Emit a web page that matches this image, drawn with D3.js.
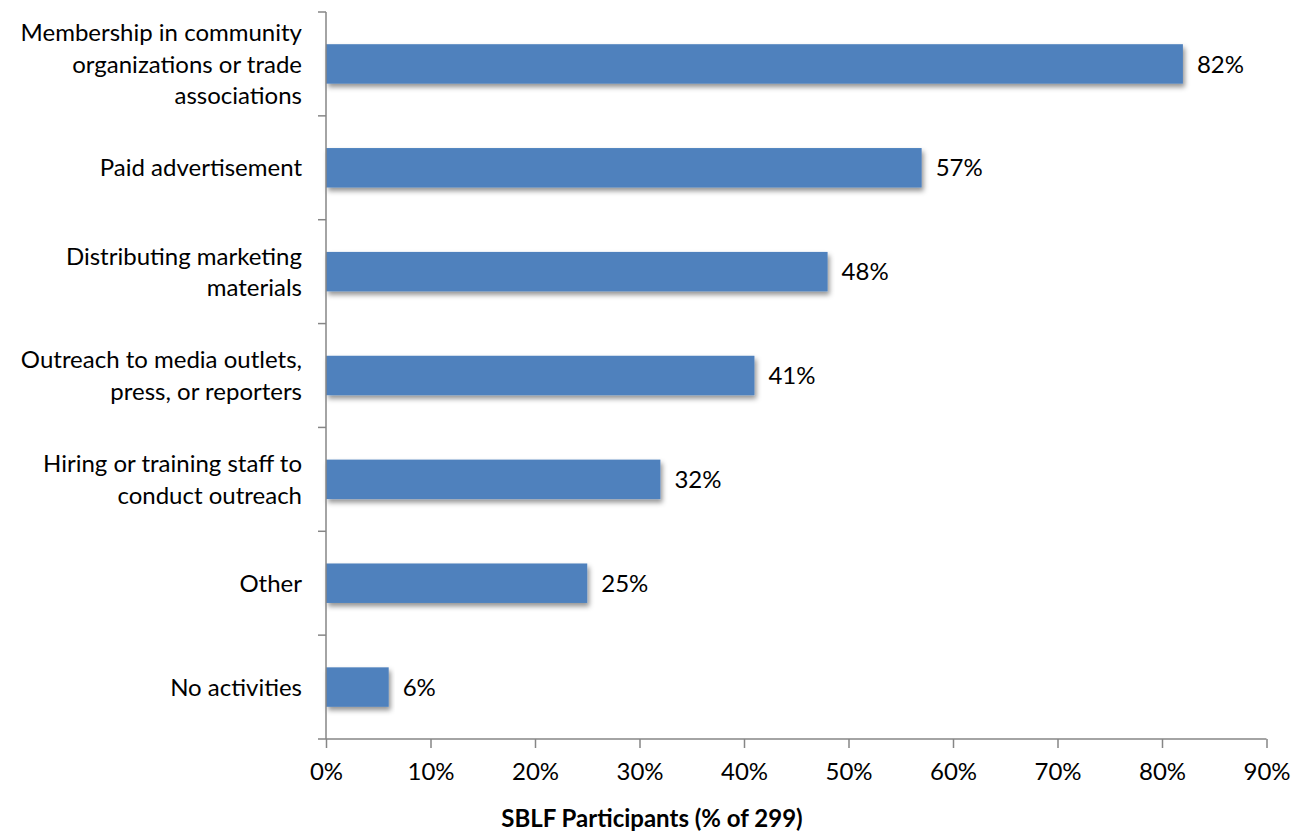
<!DOCTYPE html>
<html>
<head>
<meta charset="utf-8">
<script src="https://cdn.jsdelivr.net/npm/d3@7"></script>
<style>
  html, body { margin: 0; padding: 0; background: #fff; }
  svg text { font-family: Lato, "Open Sans", sans-serif; fill: #000; }
</style>
</head>
<body>
<svg id="chart" width="1300" height="837"></svg>
<script>
// Outreach activities reported by SBLF participants
const categories = [
  ["Membership in community", "organizations or trade", "associations"],
  ["Paid advertisement"],
  ["Distributing marketing", "materials"],
  ["Outreach to media outlets,", "press, or reporters"],
  ["Hiring or training staff to", "conduct outreach"],
  ["Other"],
  ["No activities"]
];
const values = [82, 57, 48, 41, 32, 25, 6];
const xTicks = [0, 10, 20, 30, 40, 50, 60, 70, 80, 90];
const axisTitle = "SBLF Participants (% of 299)";

const svg = d3.select("#chart");
const plotLeft = 326, plotRight = 1266.5, plotTop = 12, plotBottom = 739;
const fontSize = 24;

const x = d3.scaleLinear().domain([0, 90]).range([plotLeft, plotRight]);
const y = d3.scaleBand().domain(d3.range(categories.length)).range([plotTop, plotBottom]).paddingInner(0.62).paddingOuter(0.31);

// soft drop shadow under the bars
const defs = svg.append("defs");
const f = defs.append("filter").attr("id", "shadow").attr("x", "-5%").attr("y", "-30%").attr("width", "115%").attr("height", "190%");
f.append("feDropShadow").attr("dx", 2).attr("dy", 3.5).attr("stdDeviation", 2.4)
  .attr("flood-color", "#000").attr("flood-opacity", 0.42);

// bars
svg.append("g").selectAll("rect").data(values).join("rect")
  .attr("x", x(0))
  .attr("y", (d, i) => y(i))
  .attr("width", d => x(d) - x(0))
  .attr("height", y.bandwidth())
  .attr("fill", "#4F81BD")
  .attr("filter", "url(#shadow)");

// value labels
svg.append("g").selectAll("text").data(values).join("text")
  .attr("x", d => x(d) + 14)
  .attr("y", (d, i) => y(i) + y.bandwidth() / 2)
  .attr("dy", "0.36em")
  .attr("font-size", fontSize)
  .text(d => d + "%");

// bottom axis
const xAxis = d3.axisBottom(x).tickValues(xTicks).tickFormat(d => d + "%").tickSize(9).tickPadding(15);
const gx = svg.append("g").attr("transform", `translate(0,${plotBottom})`).call(xAxis);
gx.select(".domain").attr("stroke", "#868686").attr("stroke-width", 1.5).attr("d", `M${plotLeft},0H${plotRight}`);
gx.selectAll(".tick line").attr("stroke", "#868686").attr("stroke-width", 1.5);
gx.selectAll(".tick text").attr("font-size", fontSize).attr("font-family", "Lato, 'Open Sans', sans-serif").attr("fill", "#000");

// left axis with category boundaries as ticks
const yEdges = d3.scaleLinear().domain([0, categories.length]).range([plotTop, plotBottom]);
const gy = svg.append("g").attr("transform", `translate(${plotLeft},0)`);
gy.append("line").attr("x1", 0).attr("x2", 0).attr("y1", yEdges(0)).attr("y2", yEdges(categories.length))
  .attr("stroke", "#868686").attr("stroke-width", 1.5);
gy.selectAll("line.tk").data(d3.range(categories.length + 1)).join("line").attr("class", "tk")
  .attr("x1", -8).attr("x2", 0).attr("y1", d => yEdges(d)).attr("y2", d => yEdges(d))
  .attr("stroke", "#868686").attr("stroke-width", 1.5);

// category labels, right-aligned, multi-line
const lineH = 31.5;
const lab = svg.append("g").selectAll("text").data(categories).join("text")
  .attr("text-anchor", "end")
  .attr("font-size", fontSize)
  .attr("x", 302)
  .attr("y", (d, i) => y(i) + y.bandwidth() / 2 - (d.length - 1) * lineH / 2);
lab.selectAll("tspan").data(d => d).join("tspan")
  .attr("x", 302)
  .attr("dy", (d, j) => j === 0 ? "0.36em" : lineH)
  .text(d => d);

// axis title
svg.append("text")
  .attr("x", 652).attr("y", 827)
  .attr("text-anchor", "middle")
  .attr("font-size", fontSize).attr("font-weight", "bold")
  .text(axisTitle);
</script>
</body>
</html>
